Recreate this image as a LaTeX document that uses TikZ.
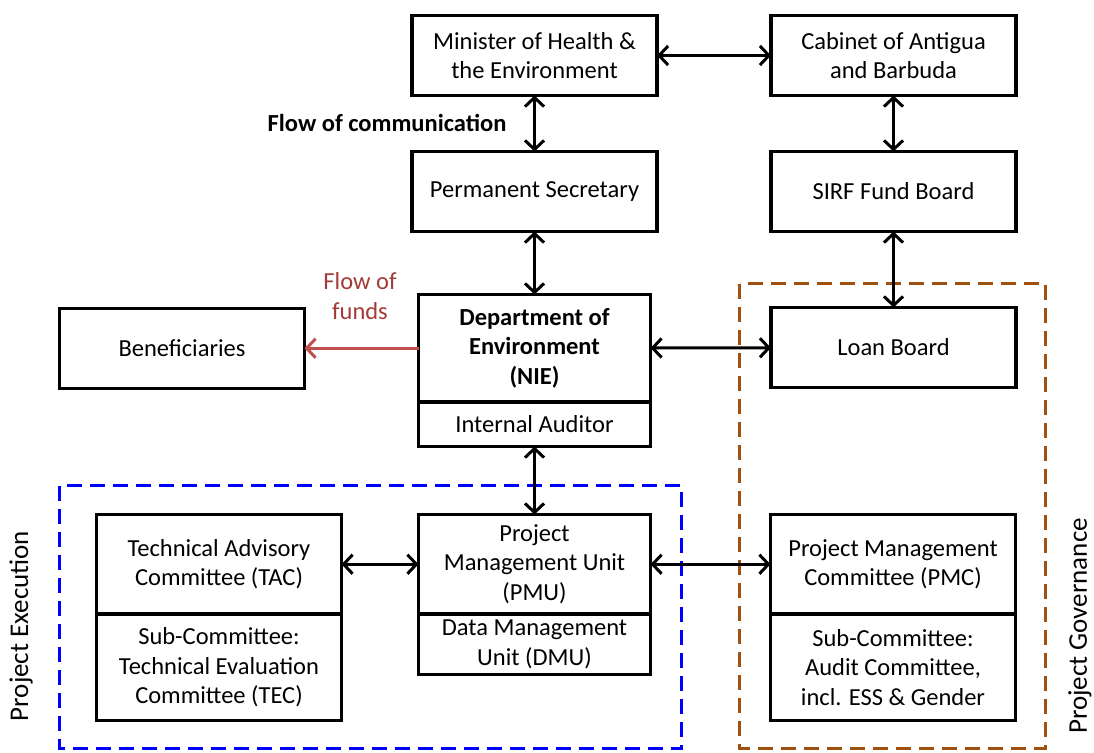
\documentclass[tikz,border=0pt]{standalone}
\usepackage{fontspec}
\setmainfont{Carlito}
\usetikzlibrary{positioning, arrows.meta}

\definecolor{funds}{HTML}{C0504D}
\definecolor{fundstext}{HTML}{A33B38}
\definecolor{govern}{HTML}{A0510F}

\tikzset{
	box/.style={draw, line width=3.4pt, outer sep=0pt, inner sep=0pt, align=center,
		minimum width=245pt, minimum height=80pt},
	narrow/.style={minimum width=232pt},
	group/.style={line width=3pt, dash pattern=on 15pt off 8pt},
	side/.style={rotate=90, inner sep=0pt, font=\fontsize{27}{30}\selectfont}
}

\begin{document}
\begin{tikzpicture}[x=1pt, y=-1pt, >={Straight Barb[length=9pt,width=19pt]},
		font=\fontsize{24.5}{29.5}\selectfont]
				\useasboundingbox (0,0) rectangle (1094,752);
				% top rows
				\node[box] (min) at (534.5,55.5) {Minister of Health \&\\the Environment};
				\node[box, right=114pt of min] (cab) {Cabinet of Antigua\\and Barbuda};
				\node[box, below=56pt of min] (ps) {Permanent Secretary};
				\node[box, below=56pt of cab] (sirf) {SIRF Fund Board};
				% department
				\node[box, narrow, minimum height=107.5pt, below=63pt of ps] (dept) {\textbf{Department of}\\\textbf{Environment}\\\textbf{(NIE)}};
				\node[box, narrow, minimum height=44.5pt, below=0pt of dept] (aud) {Internal Auditor};
				\node[box, left=114pt of dept] (ben) {Beneficiaries};
				\node[box, below=76pt of sirf] (loan) {Loan Board};
				% bottom row
				\node[box, narrow, minimum height=99.5pt, below=68pt of aud] (pmu) {Project\\Management Unit\\(PMU)};
				\node[box, narrow, minimum height=60.5pt, below=0pt of pmu] (dmu) {Data Management\\Unit (DMU)};
				\node[box, minimum height=99.5pt, left=77pt of pmu] (tac) {Technical Advisory\\Committee (TAC)};
				\node[box, minimum height=106.5pt, below=0pt of tac] (tec) {Sub-Committee:\\Technical Evaluation\\Committee (TEC)};
				\node[box, minimum height=99.5pt, right=120pt of pmu] (pmc) {Project Management\\Committee (PMC)};
				\node[box, minimum height=106.5pt, below=0pt of pmc] (aud2) {Sub-Committee:\\Audit Committee,\\incl. ESS \& Gender};
				% groups
				\draw[group, blue] (59.5,485.5) rectangle (681.5,748.5);
				\draw[group, govern] (739.5,283.5) rectangle (1045.5,748);
				\node[side] (exec) at (21,626) {Project Execution};
				\node[side] (gov) at (1080,626) {Project Governance};
				% labels
				\node (comm) at (387,123) {\textbf{Flow of communication}};
				\node[align=center, text=fundstext] (flow) at (360,296) {Flow of\\funds};
				% links
				\path[<->, line width=3pt] (min) edge (cab)
					(min) edge (ps)
					(cab) edge (sirf)
					(ps) edge (dept)
					(sirf) edge (loan)
					(dept) edge (loan)
					(aud) edge (pmu)
					(tac) edge (pmu)
					(pmu) edge (pmc);
				\draw[->, line width=3pt, funds] (dept) -- (ben);
			\end{tikzpicture}
\end{document}
